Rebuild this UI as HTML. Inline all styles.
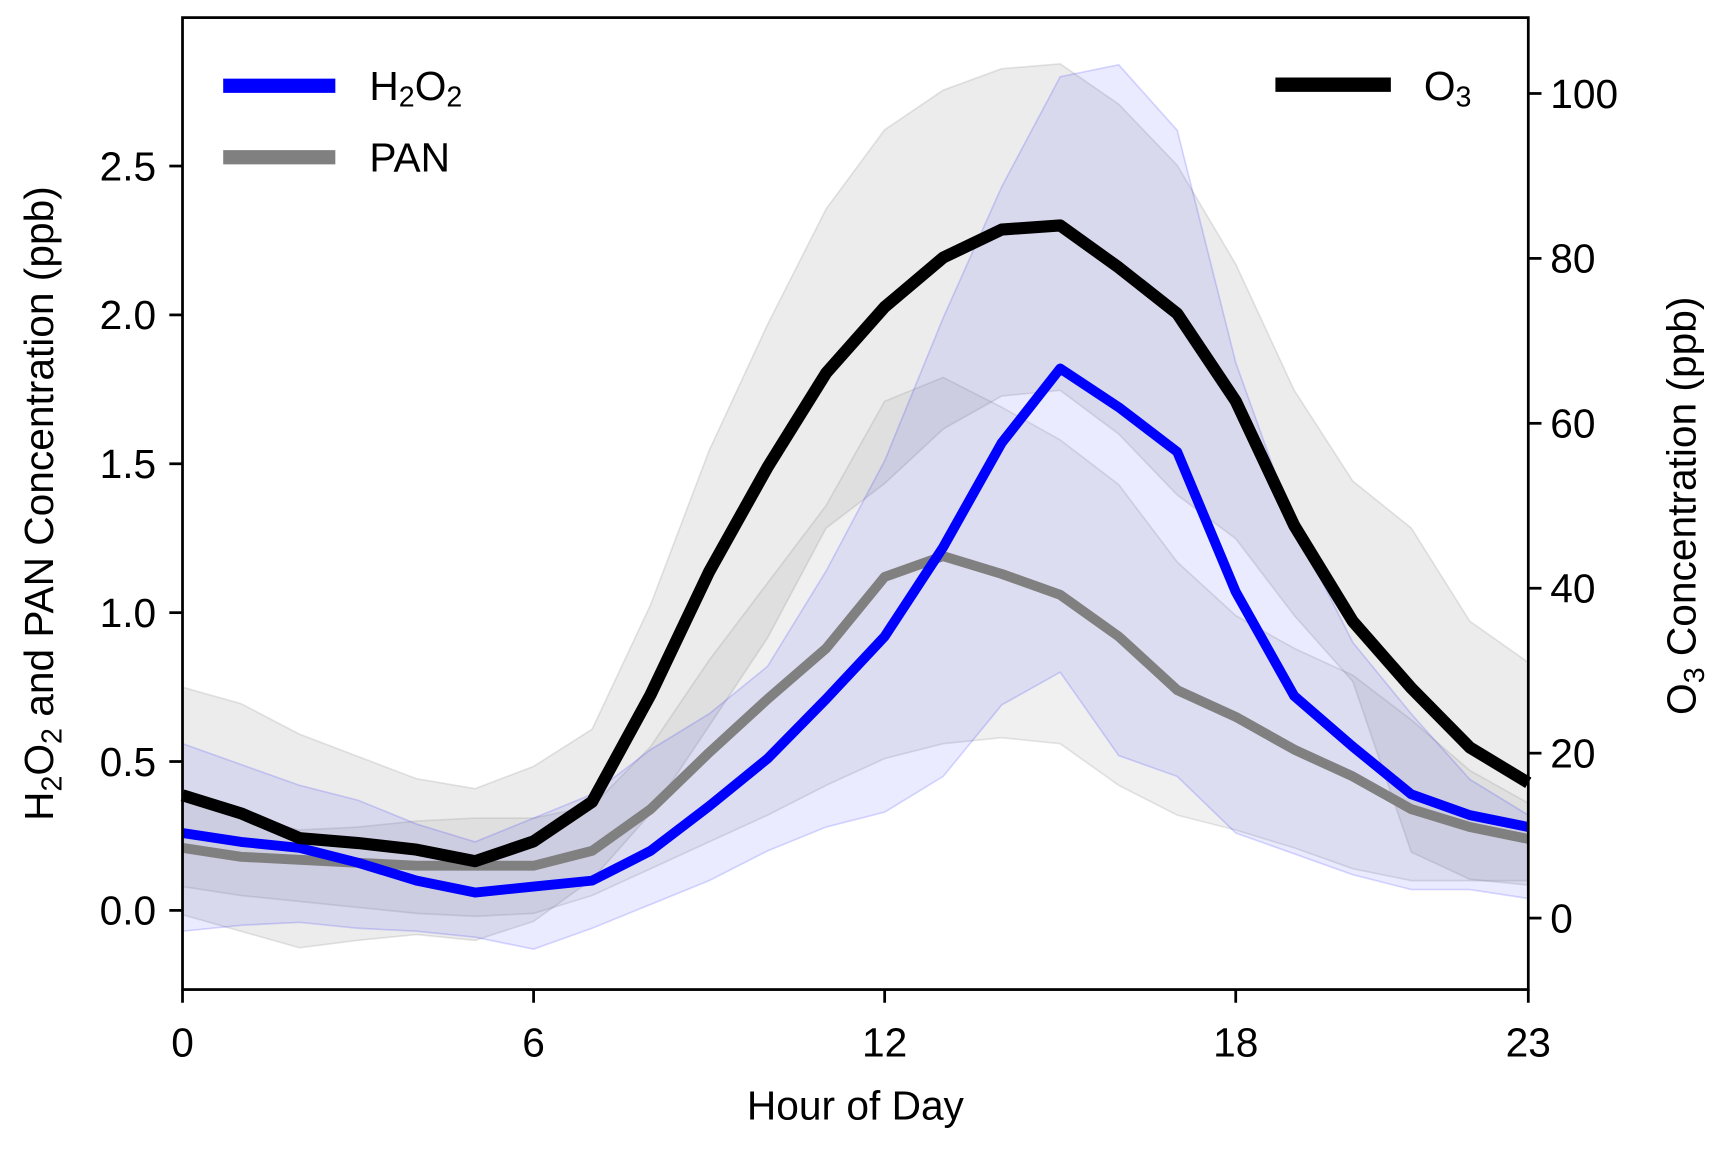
<!DOCTYPE html>
<html><head><meta charset="utf-8"><style>
html,body{margin:0;padding:0;background:#fff}
svg{display:block;font-family:"Liberation Sans",Arial,sans-serif}
</style></head><body>
<svg id="chart" width="1724" height="1149" viewBox="0 0 1568 1045" xmlns="http://www.w3.org/2000/svg">
<g id="bands"></g>
<g id="lines"></g>
<rect x="166" y="16" width="1224" height="884" fill="none" stroke="#000" stroke-width="2.5"/>
<g id="axes" font-size="37"></g>
<text x="778" y="1018" font-size="37" text-anchor="middle">Hour of Day</text>
<text transform="translate(48,458) rotate(-90)" font-size="37" text-anchor="middle">H<tspan font-size="26" dy="8">2</tspan><tspan dy="-8">O</tspan><tspan font-size="26" dy="8">2</tspan><tspan dy="-8"> and PAN Concentration (ppb)</tspan></text>
<text transform="translate(1542,460) rotate(-90)" font-size="37" text-anchor="middle">O<tspan font-size="26" dy="8">3</tspan><tspan dy="-8"> Concentration (ppb)</tspan></text>
<g font-size="37">
<line x1="203" y1="78" x2="305" y2="78" stroke="#0000ff" stroke-width="13"/>
<text x="336" y="91">H<tspan font-size="26" dy="6">2</tspan><tspan dy="-6">O</tspan><tspan font-size="26" dy="6">2</tspan></text>
<line x1="203" y1="143" x2="305" y2="143" stroke="#808080" stroke-width="13"/>
<text x="336" y="156">PAN</text>
</g>
<g font-size="37">
<line x1="1160" y1="77" x2="1265" y2="77" stroke="#000" stroke-width="13"/>
<text x="1295" y="91">O<tspan font-size="26" dy="6">3</tspan></text>
</g>
</svg>
<script>
const hours=[0,1,2,3,4,5,6,7,8,9,10,11,12,13,14,15,16,17,18,19,20,21,22,23];
const h2o2Mean=[0.26,0.23,0.21,0.16,0.10,0.06,0.08,0.10,0.20,0.35,0.51,0.71,0.92,1.22,1.57,1.82,1.69,1.54,1.07,0.72,0.55,0.39,0.32,0.28];
const h2o2Upper=[0.56,0.49,0.42,0.37,0.29,0.23,0.31,0.39,0.54,0.66,0.82,1.14,1.51,1.99,2.43,2.80,2.84,2.62,1.84,1.29,0.90,0.66,0.44,0.32];
const h2o2Lower=[-0.07,-0.05,-0.04,-0.06,-0.07,-0.09,-0.13,-0.06,0.02,0.10,0.20,0.28,0.33,0.45,0.69,0.80,0.52,0.45,0.26,0.19,0.12,0.07,0.07,0.04];
const panMean=[0.21,0.18,0.17,0.16,0.15,0.15,0.15,0.20,0.34,0.53,0.71,0.88,1.12,1.19,1.13,1.06,0.92,0.74,0.65,0.54,0.45,0.34,0.28,0.24];
const panUpper=[0.40,0.32,0.27,0.28,0.30,0.31,0.31,0.35,0.55,0.84,1.10,1.36,1.71,1.79,1.69,1.58,1.43,1.17,0.99,0.88,0.79,0.64,0.47,0.36];
const panLower=[0.08,0.05,0.03,0.01,-0.01,-0.02,-0.01,0.05,0.14,0.23,0.32,0.42,0.51,0.56,0.58,0.56,0.42,0.32,0.27,0.21,0.14,0.10,0.10,0.10];
const o3Mean=[14.9,12.7,9.7,9.1,8.3,6.9,9.3,14.1,27.1,42,54.7,66.1,74.1,80.1,83.5,84,78.9,73.3,62.7,47.6,36,27.9,20.7,16.4];
const o3Upper=[28,26,22.3,19.6,16.9,15.7,18.4,22.9,38,56.7,72,86,95.6,100.4,103,103.6,98.7,91.3,79.3,64,53,47.3,36,31];
const o3Lower=[0.4,-1.6,-3.6,-2.7,-2,-2.7,-0.4,4.7,12.7,23.3,34,47.3,52.7,59.3,63.3,64,58.7,51.3,46,36.7,28.7,8,4.7,4];
const xTicks=[0,6,12,18,23];
const leftTicks=[0.0,0.5,1.0,1.5,2.0,2.5];
const rightTicks=[0,20,40,60,80,100];

const NS='http://www.w3.org/2000/svg';
const X=h=>166+h*(1224/23);
const YL=v=>828-v*270.8;
const YR=v=>835-v*7.5;
function mk(tag,attrs,parent){const e=document.createElementNS(NS,tag);for(const k in attrs)e.setAttribute(k,attrs[k]);parent.appendChild(e);return e;}
const bands=document.getElementById('bands'),lines=document.getElementById('lines'),axes=document.getElementById('axes');
function band(up,lo,Y,fill,stroke,name){
  let d='M'+hours.map((h,i)=>X(h)+','+Y(up[i])).join('L');
  for(let i=hours.length-1;i>=0;i--)d+='L'+X(hours[i])+','+Y(lo[i]);
  const p=mk('path',{d:d+'Z',fill:fill,stroke:stroke,'stroke-width':1.5},bands);
  
  
}
function line(vals,Y,color,w,name){
  const p=mk('path',{d:'M'+hours.map((h,i)=>X(h)+','+Y(vals[i])).join('L'),fill:'none',stroke:color,'stroke-width':w,'stroke-linejoin':'round'},lines);
  
  
}
band(o3Upper,o3Lower,YR,'rgba(128,128,128,0.15)','rgba(128,128,128,0.2)','o3-range-band');
band(panUpper,panLower,YL,'rgba(128,128,128,0.12)','rgba(128,128,128,0.2)','pan-range-band');
band(h2o2Upper,h2o2Lower,YL,'rgba(0,0,255,0.08)','rgba(0,0,255,0.15)','h2o2-range-band');
line(panMean,YL,'#808080',9,'pan-line');
line(h2o2Mean,YL,'#0000ff',9,'h2o2-line');
line(o3Mean,YR,'#000',11,'o3-line');
xTicks.forEach(t=>{
  const l=mk('line',{x1:X(t),x2:X(t),y1:900,y2:912,stroke:'#000','stroke-width':2.5},axes);
  
  
  const s=mk('text',{x:X(t),y:961,'text-anchor':'middle'},axes);s.textContent=t;
  
  
});
leftTicks.forEach(t=>{
  const l=mk('line',{x1:154,x2:166,y1:YL(t),y2:YL(t),stroke:'#000','stroke-width':2.5},axes);
  
  
  const s=mk('text',{x:142,y:YL(t)+13,'text-anchor':'end'},axes);s.textContent=t.toFixed(1);
  
  
});
rightTicks.forEach(t=>{
  const l=mk('line',{x1:1390,x2:1402,y1:YR(t),y2:YR(t),stroke:'#000','stroke-width':2.5},axes);
  
  
  const s=mk('text',{x:1410,y:YR(t)+13,'text-anchor':'start'},axes);s.textContent=t;
  
  
});
</script>
</body></html>
